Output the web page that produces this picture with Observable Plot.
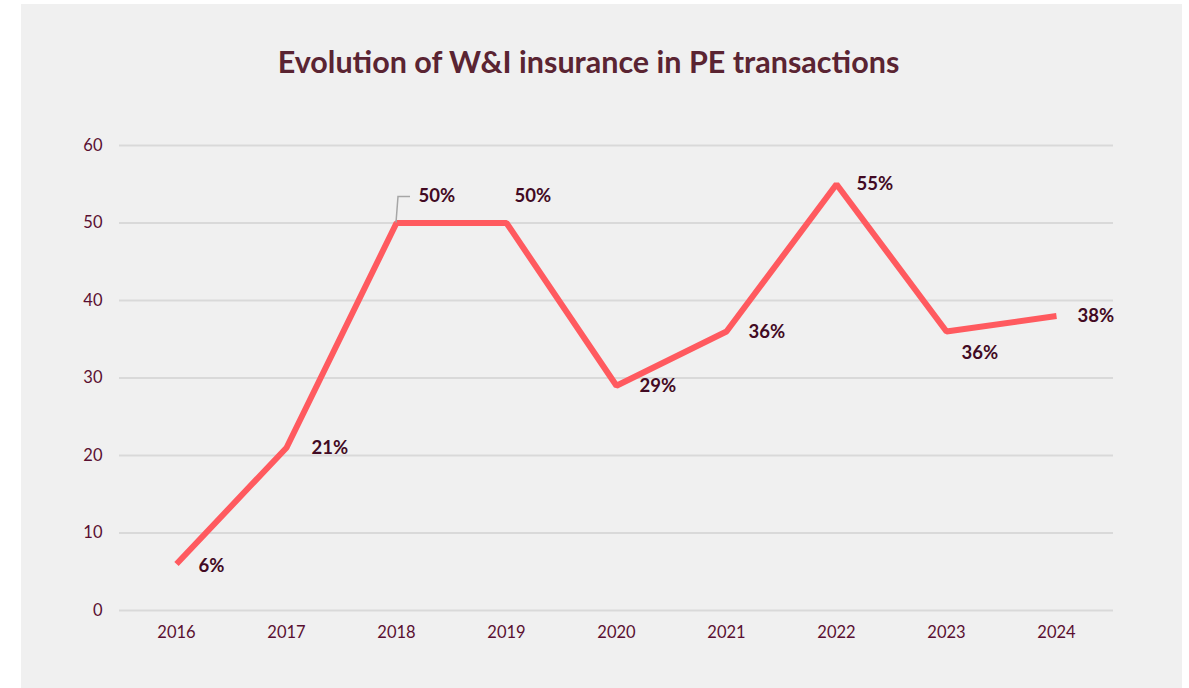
<!DOCTYPE html>
<html>
<head>
<meta charset="utf-8">
<script src="https://cdn.jsdelivr.net/npm/d3@7"></script>
<script src="https://cdn.jsdelivr.net/npm/@observablehq/plot@0.6"></script>
<style>
  html, body { margin: 0; padding: 0; background: #ffffff; }
  #panel {
    position: absolute; left: 21px; top: 4px; width: 1161px; height: 684px;
    background: #f0f0f0; font-family: Lato, "Open Sans", sans-serif;
  }
  #title {
    position: absolute; left: -13px; width: 100%; top: 39px; text-align: center;
    font-size: 30.5px; font-weight: 700; color: #5a2432; margin: 0;
  }
  #chart { position: absolute; left: 0; top: 102px; }
</style>
</head>
<body>
<div id="panel">
  <h2 id="title">Evolution of W&amp;I insurance in PE transactions</h2>
  <div id="chart"></div>
</div>
<script>
const years = ["2016","2017","2018","2019","2020","2021","2022","2023","2024"];
const shares = [6, 21, 50, 50, 29, 36, 55, 36, 38];
const yTicks = [0, 10, 20, 30, 40, 50, 60];

// label placement (pixels relative to the point) — styling only
const labelDx = [22, 25, 22, 8, 23, 22, 20, 15, 21];
const labelDy = [2, 0, -27, -27, 0, 1, 0, 22, 0];

const data = years.map((y, i) => ({year: y, value: shares[i], label: shares[i] + "%", dx: labelDx[i], dy: labelDy[i]}));

const leader = (index, scales) => {
  const i = years.indexOf("2018");
  const x = scales.x(years[i]), y = scales.y(shares[i]);
  const p = document.createElementNS("http://www.w3.org/2000/svg", "path");
  p.setAttribute("d", `M${x},${y} L${x + 2},${y - 26} L${x + 14},${y - 26}`);
  p.setAttribute("fill", "none");
  p.setAttribute("stroke", "#a6a6a6");
  p.setAttribute("stroke-width", "1.5");
  return p;
};

const chart = Plot.plot({
  width: 1161,
  height: 586,
  marginLeft: 98,
  marginRight: 69,
  marginTop: 39,
  marginBottom: 82,
  style: {background: "transparent", fontFamily: "Lato, 'Open Sans', sans-serif", fontSize: "16px", color: "#5a0f30"},
  x: {type: "point", domain: years, padding: 0.5, label: null},
  y: {domain: [0, 60], ticks: yTicks, label: null},
  marks: [
    Plot.gridY(yTicks, {stroke: "#d9d9d9", strokeOpacity: 1, strokeWidth: 2}),
    Plot.axisY(yTicks, {tickSize: 0, tickPadding: 17, fontSize: 16.5, fill: "#5a0f30", label: null}),
    Plot.axisX({tickSize: 0, tickPadding: 16, fontSize: 16.5, fill: "#5a0f30", label: null}),
    Plot.line(data, {x: "year", y: "value", stroke: "#ff5a5f", strokeWidth: 6, strokeLinejoin: "miter", strokeLinecap: "butt"}),
    leader,
    ...data.map(d => Plot.text([d], {x: "year", y: "value", text: "label", dx: d.dx, dy: d.dy, textAnchor: "start", fontSize: 18.5, fontWeight: 700, fill: "#420a23"}))
  ]
});
document.getElementById("chart").appendChild(chart);
</script>
</body>
</html>
